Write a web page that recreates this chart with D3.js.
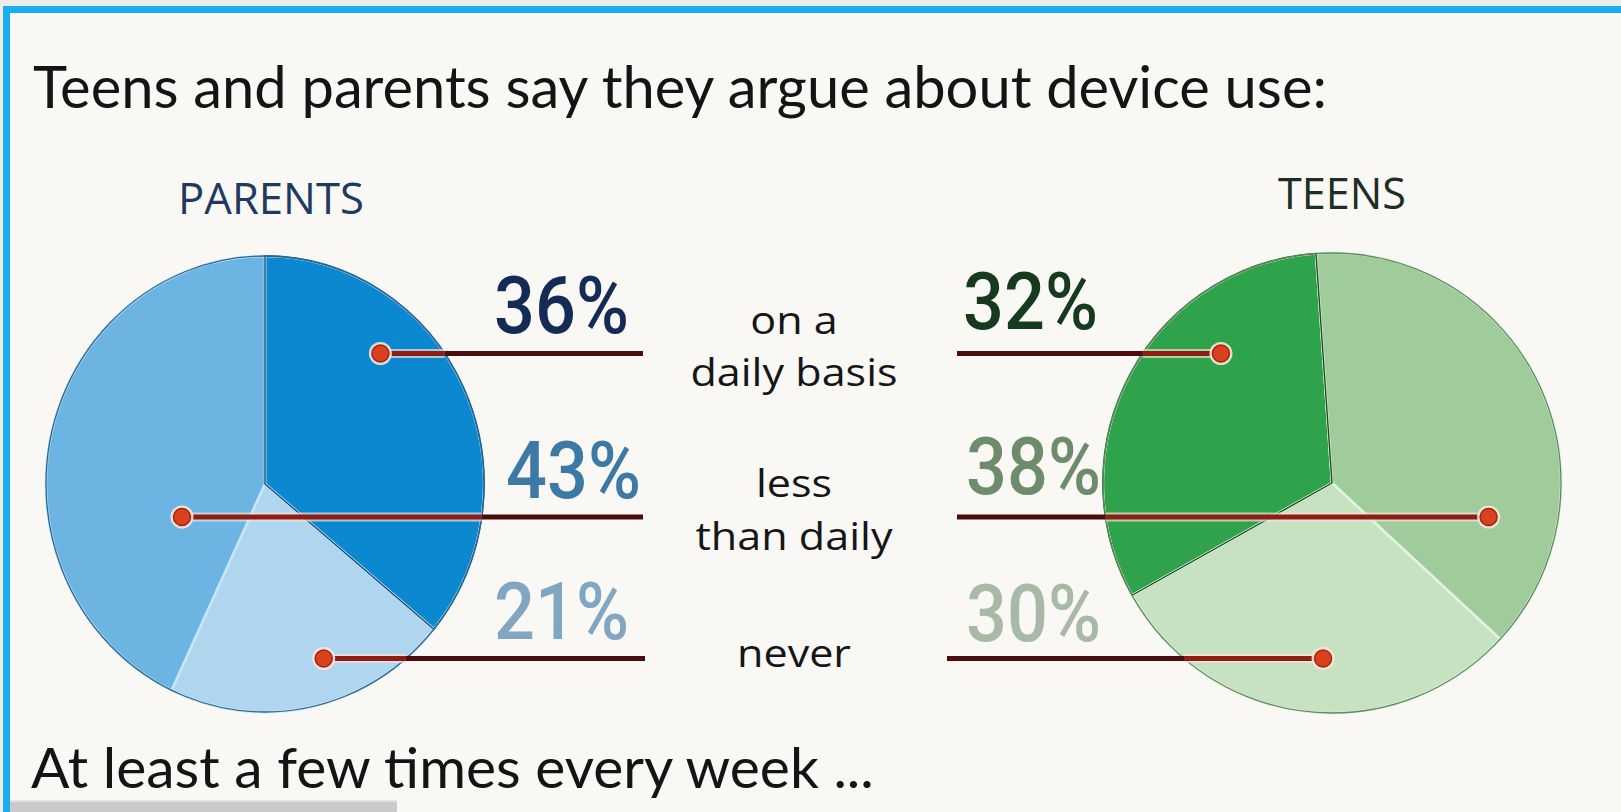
<!DOCTYPE html>
<html>
<head>
<meta charset="utf-8">
<script src="https://cdn.jsdelivr.net/npm/d3@7"></script>
<style>
  html, body { margin: 0; padding: 0; background: #ececec; }
  svg { display: block; }
</style>
</head>
<body>
<svg id="chart" width="1621" height="812"></svg>
<script>
// ---- data ----
const categories = ["on a daily basis", "less than daily", "never"];
const categoryLines = [["on a", "daily basis"], ["less", "than daily"], ["never"]];
const groups = ["PARENTS", "TEENS"];
const parentsValues = [36, 43, 21];
const teensValues = [32, 38, 30];
const title = "Teens and parents say they argue about device use:";
const footnote = "At least a few times every week ...";

// ---- layout ----
const W = 1621, H = 812;
const rowY = [353.5, 517, 658.5];           // leader line rows
const middleX = 794;                         // centre of the category captions

const pies = [
  {
    name: groups[0], values: parentsValues,
    cx: 265, cy: 484, rx: 219, ry: 228,
    order: [0, 2, 1], start: 0,
    fills: ["#0b88cf", "#6cb4e1", "#b0d6ef"],
    sep: "#c4e6f8", edge: "#2d6690", darkEdge: "#174e7c",
    labelColors: ["#142c55", "#3d79a5", "#80a6c3"],
    headColor: "#1f3a60", headX: 271, headY: 214, headW: 186,
    dotX: [0.527, -0.379, 0.268],
    lineEnd: [643, 643, 645],
    labelX: [629, 641, 629], labelDy: [-20.5, -19, -19.5], anchor: "end"
  },
  {
    name: groups[1], values: teensValues,
    cx: 1332, cy: 483, rx: 229, ry: 230,
    order: [1, 2, 0], start: -4,
    fills: ["#2fa34b", "#a0cc9c", "#c7e2c3"],
    sep: "#e2f3de", edge: "#5d8a5e", darkEdge: "#1a4c24",
    labelColors: ["#163a1e", "#6e8c6b", "#a8b9a8"],
    headColor: "#1d2e22", headX: 1342, headY: 209, headW: 128,
    dotX: [-0.485, 0.684, -0.039],
    lineEnd: [957, 957, 947],
    labelX: [963, 966, 966], labelDy: [-24.5, -23, -17.5], anchor: "start"
  }
];

const svg = d3.select("#chart");

// paper with the blue frame on top and left
svg.append("rect").attr("x", 3).attr("y", 6).attr("width", W).attr("height", H).attr("fill", "#18aeee");
svg.append("rect").attr("x", 10).attr("y", 13).attr("width", W).attr("height", H).attr("fill", "#f9f8f5");

// fit a text element's font-size so that it spans a given width
function fitWidth(sel, target) {
  const w = sel.node().getComputedTextLength();
  const fs = parseFloat(sel.attr("font-size"));
  sel.attr("font-size", fs * target / w);
  return fs * target / w;
}

// title
const t = svg.append("text").attr("x", 33).attr("y", 108)
  .attr("font-family", "Lato, 'Open Sans', sans-serif").attr("font-size", 50)
  .attr("fill", "#141414").text(title);
fitWidth(t, 1294);

// footnote
const f = svg.append("text").attr("x", 31).attr("y", 788)
  .attr("font-family", "Lato, 'Open Sans', sans-serif").attr("font-size", 44)
  .attr("fill", "#141414").text(footnote);
fitWidth(f, 843);

// grey strip along the bottom edge
svg.append("rect").attr("x", 10).attr("y", 800).attr("width", 387).attr("height", 12).attr("fill", "#cacaca");
svg.append("rect").attr("x", 10).attr("y", 800).attr("width", 387).attr("height", 2).attr("fill", "#e2e2e2");

const arc = d3.arc().innerRadius(0).outerRadius(1);

pies.forEach(p => {
  const items = p.values.map((v, i) => ({ i, value: v }));
  const pie = d3.pie()
    .value(d => d.value)
    .sort((a, b) => p.order.indexOf(a.i) - p.order.indexOf(b.i))
    .startAngle(p.start * Math.PI / 180)
    .endAngle(p.start * Math.PI / 180 + 2 * Math.PI);
  const arcs = pie(items);

  const g = svg.append("g").attr("transform", `translate(${p.cx},${p.cy}) scale(${p.rx},${p.ry})`);

  g.selectAll("path.slice").data(arcs).join("path")
    .attr("class", "slice")
    .attr("d", arc)
    .attr("fill", d => p.fills[d.data.i])
    .attr("stroke", p.sep)
    .attr("stroke-width", 2.5)
    .attr("stroke-linejoin", "round")
    .attr("vector-effect", "non-scaling-stroke");

  // outline of the first ("daily") slice
  g.append("path")
    .attr("d", arc(arcs.find(d => d.data.i === 0)))
    .attr("fill", "none")
    .attr("stroke", p.darkEdge)
    .attr("stroke-width", 1.4)
    .attr("stroke-linejoin", "round")
    .attr("vector-effect", "non-scaling-stroke");

  // outer rim
  g.append("ellipse").attr("cx", 0).attr("cy", 0).attr("rx", 1).attr("ry", 1)
    .attr("fill", "none").attr("stroke", p.edge).attr("stroke-width", 1.3)
    .attr("vector-effect", "non-scaling-stroke");

  // group heading
  const h = svg.append("text").attr("x", p.headX).attr("y", p.headY)
    .attr("text-anchor", "middle")
    .attr("font-family", "'Open Sans', Lato, sans-serif").attr("font-size", 30)
    .attr("fill", p.headColor).text(p.name);
  fitWidth(h, p.headW);

  // leader lines with dots
  categories.forEach((c, i) => {
    const y = rowY[i];
    const dx = p.cx + p.dotX[i] * p.rx;
    const half = p.rx * Math.sqrt(Math.max(0, 1 - Math.pow((y - p.cy) / p.ry, 2)));
    const rim = p.anchor === "end" ? p.cx + half : p.cx - half;
    const lg = svg.append("g");
    lg.append("line").attr("x1", dx).attr("x2", rim).attr("y1", y).attr("y2", y)
      .attr("stroke", "#f3e3dc").attr("stroke-opacity", 0.7).attr("stroke-width", 9);
    lg.append("line").attr("x1", dx).attr("x2", rim).attr("y1", y).attr("y2", y)
      .attr("stroke", "#8e1d13").attr("stroke-width", 5);
    lg.append("line").attr("x1", rim).attr("x2", p.lineEnd[i]).attr("y1", y).attr("y2", y)
      .attr("stroke", "#4d0c0c").attr("stroke-width", 5);
    lg.append("circle").attr("cx", dx).attr("cy", y).attr("r", 11.5)
      .attr("fill", "#f9e6da").attr("fill-opacity", 0.9);
    lg.append("circle").attr("cx", dx).attr("cy", y).attr("r", 8.5)
      .attr("fill", "#da421e").attr("stroke", "#a02512").attr("stroke-width", 1.5);
  });

  // percentage labels in a condensed face
  p.values.forEach((v, i) => {
    const lg = svg.append("g").attr("transform", `translate(${p.labelX[i]},${rowY[i] + p.labelDy[i]})`);
    const tx = lg.append("text").attr("x", 0).attr("y", 0)
      .attr("text-anchor", p.anchor)
      .attr("font-family", "Roboto, 'DejaVu Sans Condensed', sans-serif")
      .attr("font-size", 80)
      .attr("font-weight", 500)
      .attr("fill", p.labelColors[i])
      .text(v + "%");
    const w = tx.node().getComputedTextLength();
    tx.attr("transform", `scale(${135 / w},1)`);
  });
});

// category captions between the pies
const cap = svg.append("g").attr("font-family", "'Open Sans', Lato, sans-serif")
  .attr("text-anchor", "middle").attr("fill", "#161616");
const capSize = 38.5;
categoryLines.forEach((lines, i) => {
  const offsets = lines.length === 2 ? [-20, 32.5] : [8.5];
  lines.forEach((s, j) => {
    cap.append("text")
      .attr("transform", `translate(${middleX},${rowY[i] + offsets[j]}) scale(1.12,1)`)
      .attr("font-size", capSize).text(s);
  });
});
</script>
</body>
</html>
